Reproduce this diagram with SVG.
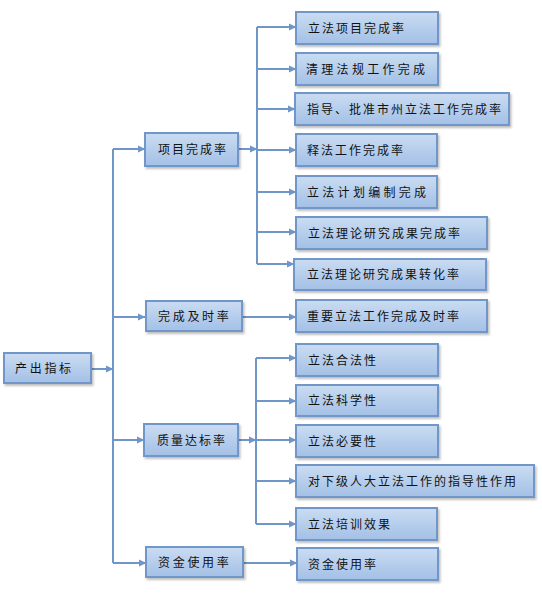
<svg xmlns="http://www.w3.org/2000/svg" width="542" height="598" viewBox="0 0 542 598">
<defs>
<linearGradient id="g" x1="0" y1="0" x2="0" y2="1">
<stop offset="0" stop-color="#cadcf2"/>
<stop offset="1" stop-color="#a3c0e6"/>
</linearGradient>
<marker id="a" markerWidth="8" markerHeight="8" refX="7" refY="4" orient="auto" markerUnits="userSpaceOnUse">
<path d="M0,0.5 L7.5,4 L0,7.5 Z" fill="#6f96c6"/>
</marker>
<filter id="s" x="-10%" y="-20%" width="125%" height="150%">
<feDropShadow dx="1.5" dy="2" stdDeviation="1" flood-color="#000" flood-opacity="0.25"/>
</filter>
</defs>
<style>
.b{fill:url(#g);stroke:#7097c8;stroke-width:2;filter:url(#s)}
text{font-family:"Noto Sans CJK SC","Noto Sans CJK JP",sans-serif;font-size:12px;fill:#111;letter-spacing:2px}
.w{letter-spacing:3.3px}
.c{fill:none;stroke:#6f96c6;stroke-width:2}
.ar{marker-end:url(#a)}
</style>
<rect width="542" height="598" fill="#fff"/>
<g id="connectors">
<path class="c ar" d="M91,369 H113"/>
<path class="c" d="M113,149 V563"/>
<path class="c ar" d="M113,149 H145"/>
<path class="c ar" d="M113,317 H145"/>
<path class="c ar" d="M113,440 H144"/>
<path class="c ar" d="M113,563 H146"/>
<path class="c ar" d="M238,149 H257"/>
<path class="c" d="M257,27 V264"/>
<path class="c ar" d="M257,27 H296"/>
<path class="c ar" d="M257,69 H296"/>
<path class="c ar" d="M257,109 H295"/>
<path class="c ar" d="M257,150 H296"/>
<path class="c ar" d="M257,192 H296"/>
<path class="c ar" d="M257,232 H296"/>
<path class="c ar" d="M257,264 H294"/>
<path class="c ar" d="M242,317 H296"/>
<path class="c ar" d="M238,440 H256"/>
<path class="c" d="M256,358 V524"/>
<path class="c ar" d="M256,358 H296"/>
<path class="c ar" d="M256,401 H296"/>
<path class="c ar" d="M256,440 H296"/>
<path class="c ar" d="M256,481 H296"/>
<path class="c ar" d="M256,524 H296"/>
<path class="c ar" d="M243,563 H297"/>
</g>
<g id="n0"><rect class="b" x="4" y="353" width="87" height="30"/><text x="15" y="373" style="letter-spacing:2.7px">产出指标</text></g>
<g id="n1"><rect class="b" x="145" y="133" width="93" height="33"/><text x="158" y="154">项目完成率</text></g>
<g id="n2"><rect class="b" x="146" y="301" width="96" height="30"/><text x="158" y="321" style="letter-spacing:2.7px">完成及时率</text></g>
<g id="n3"><rect class="b" x="144" y="424" width="94" height="32"/><text x="157" y="445">质量达标率</text></g>
<g id="n4"><rect class="b" x="146" y="547" width="97" height="30"/><text x="158" y="567" style="letter-spacing:2.7px">资金使用率</text></g>
<g id="m1"><rect class="b" x="296" y="12" width="142" height="32"/><text x="308" y="33">立法项目完成率</text></g>
<g id="m2"><rect class="b" x="296" y="53" width="142" height="32"/><text class="w" x="306" y="74">清理法规工作完成</text></g>
<g id="m3"><rect class="b" x="295" y="93" width="214" height="32"/><text x="307" y="114">指导、批准市州立法工作完成率</text></g>
<g id="m4"><rect class="b" x="296" y="134" width="141" height="32"/><text x="307" y="155">释法工作完成率</text></g>
<g id="m5"><rect class="b" x="296" y="176" width="141" height="32"/><text class="w" x="307" y="197">立法计划编制完成</text></g>
<g id="m6"><rect class="b" x="296" y="217" width="191" height="32"/><text x="308" y="238">立法理论研究成果完成率</text></g>
<g id="m7"><rect class="b" x="294" y="259" width="192" height="31"/><text x="307" y="279">立法理论研究成果转化率</text></g>
<g id="m8"><rect class="b" x="296" y="300" width="191" height="32"/><text x="307" y="321">重要立法工作完成及时率</text></g>
<g id="m9"><rect class="b" x="296" y="344" width="142" height="32"/><text x="308" y="365">立法合法性</text></g>
<g id="m10"><rect class="b" x="296" y="385" width="142" height="31"/><text x="308" y="405">立法科学性</text></g>
<g id="m11"><rect class="b" x="296" y="425" width="142" height="32"/><text x="308" y="446">立法必要性</text></g>
<g id="m12"><rect class="b" x="296" y="465" width="238" height="32"/><text x="308" y="486">对下级人大立法工作的指导性作用</text></g>
<g id="m13"><rect class="b" x="296" y="508" width="141" height="32"/><text x="308" y="529">立法培训效果</text></g>
<g id="m14"><rect class="b" x="297" y="548" width="141" height="32"/><text x="308" y="569">资金使用率</text></g>
</svg>
